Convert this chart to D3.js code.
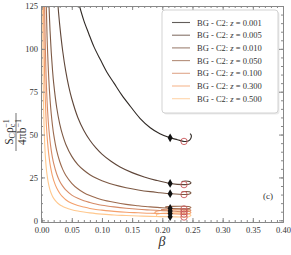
<!DOCTYPE html>
<html>
<head>
<meta charset="utf-8">
<script src="https://cdn.jsdelivr.net/npm/d3@7"></script>
<style>
  body { margin: 0; background: #fff; }
  text { font-family: "Liberation Serif", "DejaVu Serif", serif; fill: #333; }
</style>
</head>
<body>
<svg id="chart" width="291" height="255"></svg>
<script>
// legend labels & colours (dark -> light)
const zLabels = ['0.001', '0.005', '0.010', '0.050', '0.100', '0.300', '0.500'];
const colors  = ['#2e2824', '#5e4538', '#7d5944', '#9c6a4e', '#d58a66', '#f4a06c', '#ffc88e'];

// curves: [beta, value]
const curve001 = [[0.0628,125],[0.07,116.5],[0.078,109],[0.087,101],[0.0975,93.6],[0.108,86.5],[0.12,80],
  [0.133,73],[0.147,66.5],[0.163,59.5],[0.18,54],[0.196,50.5],[0.213,48.1],[0.225,47],[0.236,46],
  [0.243,46.2],[0.247,47.5],[0.248,49.5],[0.246,50.5]];
const curve005 = [[0.0272,125],[0.03,114],[0.035,98.6],[0.04,87],[0.045,78],[0.05,70.9],[0.06,60],[0.07,52.4],
  [0.08,46.7],[0.09,42.2],[0.10,38.6],[0.115,34.4],[0.13,31.1],[0.15,27.8],[0.17,25.3],[0.19,23.3],
  [0.213,21.5],[0.236,20.8],[0.244,21.0],[0.2475,21.8],[0.245,22.6],[0.238,22.9],[0.232,22.6]];
const curve010 = [[0.0123,125],[0.014,110.6],[0.016,97.9],[0.018,88],[0.02,80],[0.025,65.8],[0.03,56.3],
  [0.035,49.5],[0.04,44.4],[0.05,37.3],[0.06,32.5],[0.07,29.2],[0.08,26.6],[0.09,24.6],[0.10,23.1],
  [0.12,20.7],[0.14,19.0],[0.16,17.7],[0.18,16.7],[0.196,16.1],[0.213,15.5],[0.236,15.0],[0.244,15.2],
  [0.2475,15.9],[0.245,16.6],[0.238,16.8],[0.232,16.5]];
const curve050 = [[0.0078,125],[0.009,108],[0.010,97.7],[0.012,81.9],[0.014,70.5],[0.016,62],[0.018,55.4],
  [0.02,50.1],[0.025,40.6],[0.03,34.3],[0.035,29.7],[0.04,26.3],[0.05,21.6],[0.06,18.4],[0.07,16.1],
  [0.08,14.4],[0.09,13.1],[0.10,12.0],[0.12,10.5],[0.14,9.3],[0.16,8.5],[0.18,7.8],[0.196,7.4],[0.213,7.0],
  [0.236,6.6],[0.244,6.8],[0.2475,7.4],[0.244,8.0],[0.232,8.2],[0.215,8.1],[0.205,7.8]];
const curve100 = [[0.005,125],[0.006,104],[0.007,89.5],[0.008,78.5],[0.01,63.5],[0.012,53.4],[0.014,46.2],
  [0.016,40.8],[0.018,36.6],[0.02,33.2],[0.025,27],[0.03,22.8],[0.035,19.9],[0.04,17.7],[0.05,14.7],
  [0.06,12.8],[0.07,11.4],[0.08,10.4],[0.09,9.5],[0.10,8.8],[0.12,7.8],[0.14,7.0],[0.16,6.4],[0.18,6.0],
  [0.196,5.7],[0.213,5.4],[0.236,5.0],[0.244,5.2],[0.2475,5.8],[0.244,6.4],[0.23,6.7],[0.21,6.6],[0.198,6.2]];
const curve300 = [[0.0033,125],[0.004,104],[0.005,85],[0.006,72],[0.007,62.5],[0.008,55],[0.01,45],
  [0.012,38],[0.014,32.8],[0.016,29],[0.018,25.8],[0.02,23.3],[0.025,18.8],[0.03,15.8],[0.035,13.6],
  [0.04,12],[0.05,9.9],[0.06,8.6],[0.07,7.7],[0.08,6.9],[0.09,6.3],[0.10,5.9],[0.12,5.2],[0.14,4.7],
  [0.16,4.4],[0.18,4.1],[0.196,4.0],[0.213,3.9],[0.236,3.6],[0.244,3.8],[0.2475,4.6],[0.243,5.5],
  [0.23,6.0],[0.21,6.0],[0.195,5.6],[0.188,4.8],[0.188,4.0]];
const curve500 = [[0.0017,125],[0.002,107],[0.0025,87],[0.003,73],[0.004,56],[0.005,45.5],[0.006,38.5],
  [0.007,33.5],[0.008,29.5],[0.01,24.2],[0.012,20.4],[0.014,17.6],[0.016,15.6],[0.018,14.0],[0.02,12.8],
  [0.025,10.6],[0.03,9.1],[0.035,8.1],[0.04,7.3],[0.05,6.2],[0.06,5.4],[0.07,4.8],[0.08,4.3],[0.09,3.9],
  [0.10,3.6],[0.12,3.1],[0.14,2.8],[0.16,2.5],[0.18,2.3],[0.196,2.15],[0.213,2.1],[0.236,1.9],[0.244,2.1],
  [0.2475,2.9],[0.243,3.8],[0.23,4.3],[0.21,4.3],[0.195,3.9],[0.19,3.2],[0.191,2.6]];
const curves = [curve001, curve005, curve010, curve050, curve100, curve300, curve500];

// marker points
const diamondPts = [[0.213,48.1],[0.213,21.5],[0.213,15.5],[0.213,7.0],[0.213,5.4],[0.213,3.9],[0.213,2.1]];
const circlePts  = [[0.236,46],[0.236,20.8],[0.236,15.0],[0.236,6.6],[0.236,5.0],[0.236,3.6],[0.236,1.9]];

// ticks
const xMajor = d3.range(0, 0.4001, 0.05);
const xMinor = d3.range(0, 0.4001, 0.01);
const yMajor = [0, 25, 50, 75, 100, 125];
const yMinor = d3.range(0, 126, 5);

const svg = d3.select('#chart');
const L = 41, R = 283, T = 6, B = 222;
const x = d3.scaleLinear().domain([-0.001, 0.4]).range([L, R]);
const y = d3.scaleLinear().domain([-1, 125]).range([B, T]);

svg.append('clipPath').attr('id', 'clip')
  .append('rect').attr('x', L).attr('y', T).attr('width', R - L).attr('height', B - T);

// curves
const line = d3.line().curve(d3.curveCatmullRom)
  .x(d => x(d[0])).y(d => y(d[1]));
const plot = svg.append('g').attr('clip-path', 'url(#clip)');
curves.slice().reverse().forEach((c, i) => {
  plot.append('path')
    .datum(c)
    .attr('d', line)
    .attr('fill', 'none')
    .attr('stroke', colors[colors.length - 1 - i])
    .attr('stroke-width', 1.1);
});

// markers
plot.selectAll('.diamond')
  .data(diamondPts)
  .join('path')
    .attr('class', 'diamond')
    .attr('transform', d => `translate(${x(d[0])},${y(d[1])})`)
    .attr('d', d3.symbol(d3.symbolDiamond, 22))
    .attr('fill', '#111');
plot.selectAll('.circ')
  .data(circlePts)
  .join('circle')
    .attr('class', 'circ')
    .attr('cx', d => x(d[0]))
    .attr('cy', d => y(d[1]))
    .attr('r', 3.2)
    .attr('fill', 'none')
    .attr('stroke', '#c9575a')
    .attr('stroke-width', 0.9);

// frame axes with inward ticks
function frame(axis, tx, ty, size, vals, fmt) {
  const g = svg.append('g')
    .attr('transform', `translate(${tx},${ty})`)
    .call(axis.tickValues(vals).tickSize(size).tickSizeOuter(0).tickPadding(3)
      .tickFormat(fmt || (() => '')));
  g.select('.domain').attr('stroke', '#888');
  g.selectAll('.tick line').attr('stroke', '#888');
  g.selectAll('text').attr('font-size', 8.5).attr('fill', '#333')
    .style('font-family', '"Liberation Serif", serif');
  return g;
}
frame(d3.axisBottom(x), 0, B, -2, xMinor);
frame(d3.axisBottom(x), 0, B, -4, xMajor, d3.format('.2f'))
  .selectAll('text').attr('dy', '0.9em');
frame(d3.axisTop(x), 0, T, -2, xMinor);
frame(d3.axisTop(x), 0, T, -4, xMajor);
frame(d3.axisLeft(y), L, 0, -2, yMinor);
frame(d3.axisLeft(y), L, 0, -4, yMajor, d3.format('d'));
frame(d3.axisRight(y), R, 0, -2, yMinor);
frame(d3.axisRight(y), R, 0, -4, yMajor);

// legend
const lg = svg.append('g');
lg.append('rect').attr('x', 163.5).attr('y', 11.5).attr('width', 116).attr('height', 103)
  .attr('rx', 3).attr('fill', '#000').attr('opacity', 0.08);
lg.append('rect').attr('x', 162).attr('y', 10).attr('width', 116).attr('height', 103)
  .attr('rx', 3).attr('fill', '#fff').attr('stroke', '#c8c8c8').attr('stroke-width', 0.8);
zLabels.forEach((z, i) => {
  const yy = 22.5 + i * 12.7;
  lg.append('line').attr('x1', 172).attr('x2', 190).attr('y1', yy).attr('y2', yy)
    .attr('stroke', colors[i]).attr('stroke-width', 1.1).attr('opacity', 0.75);
  const t = lg.append('text').attr('x', 197).attr('y', yy + 3).attr('font-size', 8.5);
  t.append('tspan').text('BG - C2: ');
  t.append('tspan').attr('font-style', 'italic').text('z');
  t.append('tspan').text(' = ' + z);
});

// panel tag
svg.append('text').attr('x', 268).attr('y', 199).attr('text-anchor', 'middle')
  .attr('font-size', 9).text('(c)');

// x label
svg.append('text').attr('x', 162).attr('y', 246).attr('text-anchor', 'middle')
  .attr('font-size', 14).attr('font-style', 'italic').text('β');

// y label (fraction)
const yl = svg.append('g').attr('transform', 'translate(16,132) rotate(-90)');
const num = yl.append('text').attr('x', 0).attr('y', -3.5).attr('text-anchor', 'middle').attr('font-size', 11.5);
num.append('tspan').text('S');
num.append('tspan').attr('font-size', 8).attr('dy', 2.5).text('C');
num.append('tspan').attr('dy', -2.5).text('ρ');
num.append('tspan').attr('font-size', 8).attr('dy', 2.5).text('c');
num.append('tspan').attr('font-size', 8).attr('dy', -6.5).attr('dx', -4).text('−1');
yl.append('line').attr('x1', -19).attr('x2', 19).attr('y1', 0).attr('y2', 0)
  .attr('stroke', '#333').attr('stroke-width', 0.7);
const den = yl.append('text').attr('x', 0).attr('y', 10).attr('text-anchor', 'middle').attr('font-size', 11.5);
den.append('tspan').text('4πb');
den.append('tspan').attr('font-size', 8).attr('dy', -5).text('−1');
</script>
</body>
</html>
